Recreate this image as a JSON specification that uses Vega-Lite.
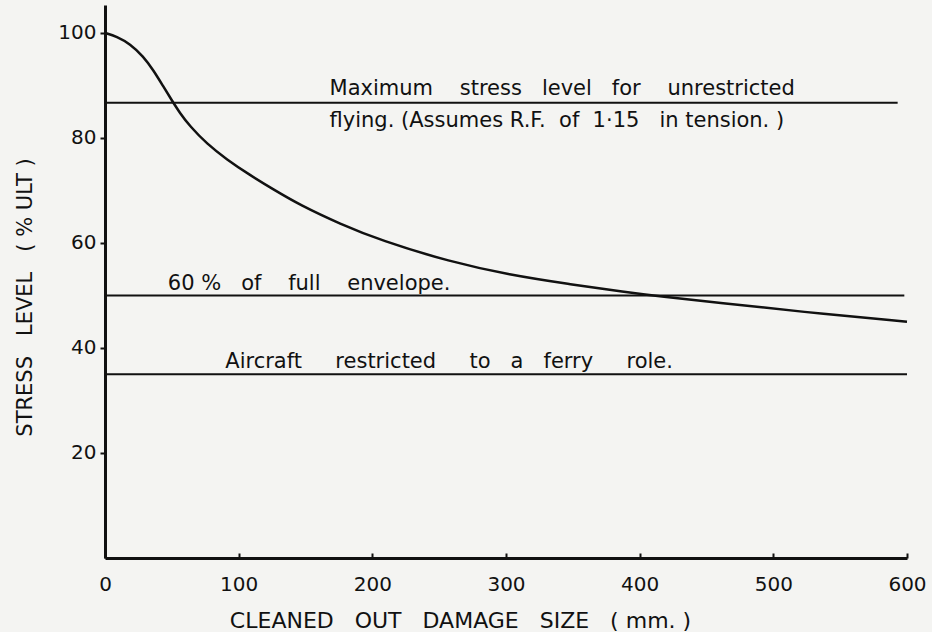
{
  "$schema": "https://vega.github.io/schema/vega-lite/v6.json",
  "width": 802,
  "height": 553,
  "autosize": {"type": "none"},
  "padding": {"left": 105, "top": 5, "right": 25, "bottom": 74},
  "background": "#f4f4f2",
  "config": {
    "view": {"stroke": null},
    "font": "DejaVu Sans",
    "axis": {"grid": false, "domainColor": "#111", "tickColor": "#111", "labelColor": "#111", "titleColor": "#111", "labelFont": "DejaVu Sans", "titleFont": "DejaVu Sans", "titleFontWeight": "normal", "labelFlush": false}
  },
  "datasets": {
    "curve": [
      {"size": 0, "stress": 100},
      {"size": 8.8, "stress": 99.3},
      {"size": 18.7, "stress": 97.9},
      {"size": 28.7, "stress": 95.5},
      {"size": 36.1, "stress": 92.9},
      {"size": 43.6, "stress": 89.8},
      {"size": 49.9, "stress": 87.2},
      {"size": 56.1, "stress": 84.7},
      {"size": 63.6, "stress": 82.2},
      {"size": 76.1, "stress": 78.9},
      {"size": 91, "stress": 75.9},
      {"size": 108.5, "stress": 72.9},
      {"size": 125.9, "stress": 70.2},
      {"size": 146, "stress": 67.2},
      {"size": 176, "stress": 63.6},
      {"size": 206, "stress": 60.5},
      {"size": 258, "stress": 56.4},
      {"size": 303, "stress": 53.9},
      {"size": 346, "stress": 52.2},
      {"size": 390, "stress": 50.6},
      {"size": 415, "stress": 49.8},
      {"size": 460, "stress": 48.6},
      {"size": 520, "stress": 46.9},
      {"size": 600, "stress": 45}
    ],
    "limits": [
      {"level": 86.7, "from": 0, "to": 593},
      {"level": 50, "from": 0, "to": 598},
      {"level": 35, "from": 0, "to": 600}
    ],
    "notes": [
      {"size": 168, "stress": 88.2, "label": "Maximum\u00a0\u00a0\u00a0\u00a0stress\u00a0\u00a0\u00a0level\u00a0\u00a0\u00a0for\u00a0\u00a0\u00a0\u00a0unrestricted"},
      {"size": 168, "stress": 82.1, "label": "flying.\u00a0(Assumes\u00a0R.F.\u00a0\u00a0of\u00a0\u00a01·15\u00a0\u00a0\u00a0in\u00a0tension.\u00a0)"},
      {"size": 47, "stress": 51, "label": "60\u00a0%\u00a0\u00a0\u00a0of\u00a0\u00a0\u00a0\u00a0full\u00a0\u00a0\u00a0\u00a0envelope."},
      {"size": 90, "stress": 36.1, "label": "Aircraft\u00a0\u00a0\u00a0\u00a0\u00a0restricted\u00a0\u00a0\u00a0\u00a0\u00a0to\u00a0\u00a0\u00a0a\u00a0\u00a0\u00a0ferry\u00a0\u00a0\u00a0\u00a0\u00a0role."}
    ]
  },
  "layer": [
    {
      "data": {"name": "curve"},
      "mark": {"type": "line", "color": "#111", "strokeWidth": 2.5, "interpolate": "basis"},
      "encoding": {
        "x": {"field": "size", "type": "quantitative", "scale": {"domain": [0, 600], "nice": false},
          "axis": {"values": [0, 100, 200, 300, 400, 500, 600], "title": "CLEANED\u00a0\u00a0\u00a0OUT\u00a0\u00a0\u00a0DAMAGE\u00a0\u00a0\u00a0SIZE\u00a0\u00a0\u00a0(\u00a0mm.\u00a0)", "titleFontSize": 22, "titleX": 355, "titleY": 69, "titleAnchor": "middle", "titleBaseline": "alphabetic", "labelFontSize": 20, "tickSize": -5, "tickWidth": 2, "domainWidth": 3, "labelPadding": 21}},
        "y": {"field": "stress", "type": "quantitative", "scale": {"domain": [0, 105.3], "nice": false},
          "axis": {"values": [20, 40, 60, 80, 100], "title": "STRESS\u00a0\u00a0\u00a0LEVEL\u00a0\u00a0\u00a0(\u00a0%\u00a0ULT\u00a0)", "titleFontSize": 21, "titleX": -80, "titleY": 292, "titleAnchor": "middle", "titleBaseline": "middle", "labelFontSize": 20, "tickSize": 5, "tickWidth": 2, "domainWidth": 3, "labelPadding": 4}}
      }
    },
    {
      "data": {"name": "limits"},
      "mark": {"type": "rule", "color": "#111", "strokeWidth": 2},
      "encoding": {
        "x": {"field": "from", "type": "quantitative"},
        "x2": {"field": "to"},
        "y": {"field": "level", "type": "quantitative"}
      }
    },
    {
      "data": {"name": "notes"},
      "mark": {"type": "text", "align": "left", "baseline": "alphabetic", "fontSize": 21, "color": "#111"},
      "encoding": {
        "x": {"field": "size", "type": "quantitative"},
        "y": {"field": "stress", "type": "quantitative"},
        "text": {"field": "label"}
      }
    }
  ]
}
